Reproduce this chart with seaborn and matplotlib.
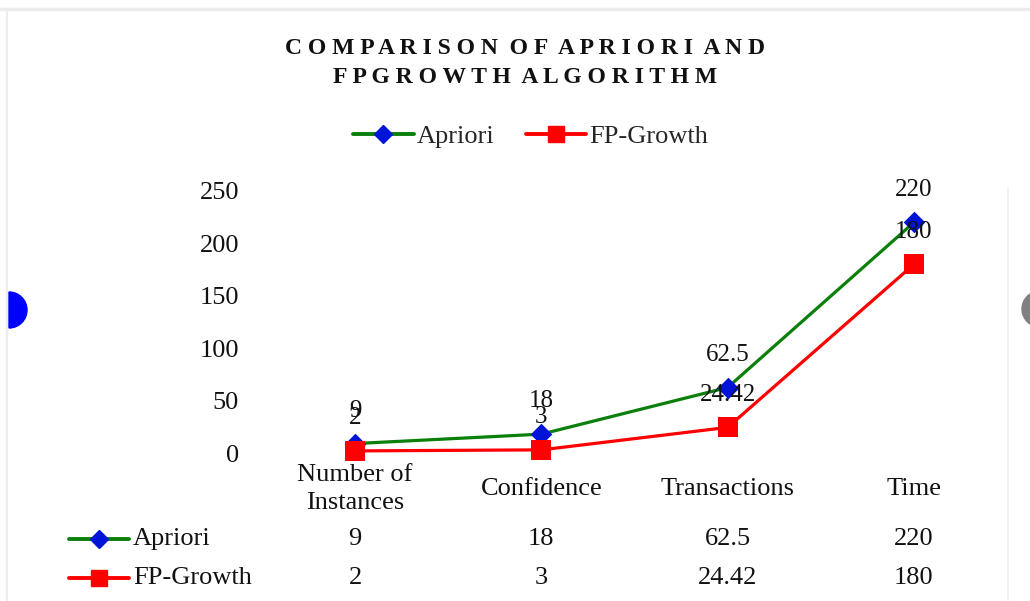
import matplotlib
matplotlib.use("Agg")
import matplotlib.pyplot as plt
import matplotlib.transforms as mtrans
from matplotlib.lines import Line2D
from matplotlib.patches import Wedge, Ellipse
import pandas as pd
import seaborn as sns

# ---------------------------------------------------------------------------
# Data
# ---------------------------------------------------------------------------
CATEGORIES = ["Number of\nInstances", "Confidence", "Transactions", "Time"]
SERIES = ["Apriori", "FP-Growth"]
APRIORI = [9, 18, 62.5, 220]
FP_GROWTH = [2, 3, 24.42, 180]
Y_TICKS = [0, 50, 100, 150, 200, 250]
TITLE_LINES = ["COMPARISON OF APRIORI AND", "FPGROWTH ALGORITHM"]

LINE_COLORS = {"Apriori": "#0a800a", "FP-Growth": "#ff0000"}
MARKER_COLORS = {"Apriori": "#0014d8", "FP-Growth": "#ff0000"}
MARKERS = {"Apriori": "D", "FP-Growth": "s"}
MARKER_SIZE = {"Apriori": 11, "FP-Growth": 15}

sns.set_theme(style="white")
plt.rcParams["font.family"] = ["Liberation Serif", "DejaVu Serif"]

W, H = 1030, 601
FS = 19


def spaced(s):
    # emulate letter spacing of the original title
    return "  ".join(" ".join(word) for word in s.split(" "))


df = pd.DataFrame({
    "category": CATEGORIES * 2,
    "value": APRIORI + FP_GROWTH,
    "algo": ["Apriori"] * len(CATEGORIES) + ["FP-Growth"] * len(CATEGORIES),
})

fig = plt.figure(figsize=(W / 100, H / 100), dpi=100)
ax = fig.add_axes([262 / W, 1 - 453 / H, 745 / W, 262 / H])

sns.lineplot(data=df, x="category", y="value", hue="algo", palette=LINE_COLORS,
             sort=False, legend=False, linewidth=2.3, ax=ax)
for algo in SERIES:
    sub = df[df["algo"] == algo]
    sns.scatterplot(data=sub, x="category", y="value", color=MARKER_COLORS[algo],
                    marker=MARKERS[algo], s=MARKER_SIZE[algo] ** 2, linewidth=0,
                    legend=False, clip_on=False, zorder=5, ax=ax)
    for i, v in enumerate(sub["value"]):
        ax.annotate(f"{v:g}", (i, v), xytext=(0, 23.5), textcoords="offset points",
                    ha="center", va="center", fontsize=18, color="#111111", zorder=6)

ax.set_xlim(-0.5, len(CATEGORIES) - 0.5)
ax.set_ylim(0, 250)
ax.set_yticks(Y_TICKS)
ax.set_xlabel("")
ax.set_ylabel("")
for s in ax.spines.values():
    s.set_visible(False)
ax.tick_params(axis="y", length=0, pad=16.5, labelsize=FS, labelcolor="#111111")
ax.tick_params(axis="x", length=0, pad=26, labelsize=FS, labelcolor="#111111")
for lab in ax.get_xticklabels():
    lab.set_verticalalignment("center")
    lab.set_linespacing(1.35)

# title
fig.text(0.51, 1 - 63 / H, "\n".join(spaced(t) for t in TITLE_LINES),
         ha="center", va="center", fontsize=17, fontweight="bold",
         linespacing=1.45, color="#111111")


def handle(algo):
    return Line2D([], [], color=LINE_COLORS[algo], lw=2.8, marker=MARKERS[algo],
                  markersize=MARKER_SIZE[algo] * 0.8, markerfacecolor=MARKER_COLORS[algo],
                  markeredgecolor=MARKER_COLORS[algo])


fig.legend([handle(a) for a in SERIES], SERIES, loc="center",
           bbox_to_anchor=(0.515, 1 - 136 / H), ncol=2, frameon=False,
           fontsize=FS, handlelength=2.3, handletextpad=0.1, columnspacing=1.2)

# data table below the chart
blend = mtrans.blended_transform_factory(ax.transData, fig.transFigure)
rows = {"Apriori": APRIORI, "FP-Growth": FP_GROWTH}
for r, algo in enumerate(SERIES):
    y = 1 - (539 + 39 * r) / H
    fig.add_artist(Line2D([69 / W, 129 / W], [y, y], color=LINE_COLORS[algo], lw=2.8,
                          transform=fig.transFigure))
    fig.add_artist(Line2D([99 / W], [y], marker=MARKERS[algo],
                          markersize=MARKER_SIZE[algo] * 0.8, color=MARKER_COLORS[algo],
                          transform=fig.transFigure))
    fig.text(133 / W, y, algo, ha="left", va="center", fontsize=FS, color="#111111")
    for i, v in enumerate(rows[algo]):
        fig.text(i, y, f"{v:g}", transform=blend, ha="center", va="center",
                 fontsize=FS, color="#111111")

# screenshot frame bits
fig.add_artist(Line2D([0, 1], [1 - 9 / H] * 2, color="#ececec", lw=2.5, transform=fig.transFigure))
fig.add_artist(Line2D([7 / W] * 2, [0, 1 - 9 / H], color="#ededed", lw=1.5, transform=fig.transFigure))
fig.add_artist(Line2D([1008 / W] * 2, [0, 1 - 188 / H], color="#f0f0f0", lw=1.2, transform=fig.transFigure))
fig.add_artist(Wedge((9, H - 310), 18, -90, 90, color="#0000ff", transform=None, zorder=10))
fig.add_artist(Ellipse((1040 / W, 1 - 309 / H), 36 / W, 36 / H, color="#808080",
                       transform=fig.transFigure))

fig.savefig("out.png", dpi=100)
